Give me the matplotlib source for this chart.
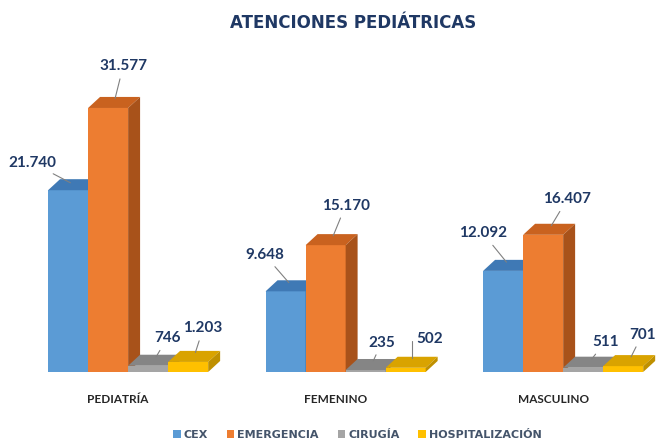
import matplotlib.pyplot as plt
import numpy as np

# data
categories = ["PEDIATRÍA", "FEMENINO", "MASCULINO"]
series = ["CEX", "EMERGENCIA", "CIRUGÍA", "HOSPITALIZACIÓN"]
cex = [21740, 9648, 12092]
emergencia = [31577, 15170, 16407]
cirugia = [746, 235, 511]
hospitalizacion = [1203, 502, 701]
values = [cex, emergencia, cirugia, hospitalizacion]

# front / top / side shades for the 3d look
front = ["#5B9BD5", "#ED7D31", "#A5A5A5", "#FFC000"]
top = ["#3F79B5", "#C9621F", "#858585", "#D9A300"]
side = ["#3A6C9E", "#A8521A", "#7A7A7A", "#BF9000"]

navy = "#1F3864"
plt.rcParams["font.family"] = ["Lato", "DejaVu Sans"]

fig = plt.figure(figsize=(6.58, 4.41), dpi=100)
ax = fig.add_axes([0, 0, 1, 1])
ax.set_xlim(-0.589, 2.436)
ax.set_ylim(-8253, 44491)
ax.axis("off")

w = 0.184      # bar width
DX = 0.055     # depth offset in x
DY = 1320      # depth offset in y
x = np.arange(len(categories))

# label offsets in pixels from the top face centre (layout only)
label_off = [
    [(-42, 22), (-27, 31), (-26, 32)],
    [(9, 36), (14, 34), (18, 30)],
    [(13, 22), (10, 22), (16, 20)],
    [(9, 28), (18, 23), (13, 26)],
]

for i, vals in enumerate(values):
    left = x - 2 * w + i * w
    ax.bar(left, vals, width=w, align="edge", color=front[i], linewidth=0,
           label=series[i])
    for g, h in enumerate(vals):
        l, r = left[g], left[g] + w
        ax.fill([l, l + DX, r + DX, r], [h, h + DY, h + DY, h],
                color=top[i], linewidth=0)
        ax.fill([r, r + DX, r + DX, r], [0, DY, h + DY, h],
                color=side[i], linewidth=0)
        # value label with leader line
        cx, cy = l + w / 2 + DX / 2, h + DY / 2
        conn = "arc3"
        if i == 3 and g == 1:
            conn = "angle,angleA=0,angleB=90,rad=0"
        ax.annotate(f"{h:,}".replace(",", "."), xy=(cx, cy),
                    xytext=label_off[i][g], textcoords="offset pixels",
                    ha="center", va="center", fontsize=11, fontweight="bold",
                    color=navy,
                    arrowprops=dict(arrowstyle="-", color="#808080", lw=0.8,
                                    shrinkA=2, shrinkB=3,
                                    connectionstyle=conn))

for g, cat in enumerate(categories):
    ax.annotate(cat, xy=(x[g], 0), xytext=(-10, -28), textcoords="offset pixels",
                ha="center", va="center", fontsize=8.5, fontweight="bold",
                color="#262626")

fig.text(0.5365, 0.948, "ATENCIONES PEDIÁTRICAS", ha="center", va="center",
         fontsize=12, fontweight="bold", color=navy, family="DejaVu Sans")

leg = ax.legend(loc="center", bbox_to_anchor=(0.543, 0.014), ncol=4,
                frameon=False, prop=dict(family="DejaVu Sans", weight="bold", size=8),
                handlelength=0.7, handleheight=0.7,
                handletextpad=0.25, columnspacing=1.7)
for t in leg.get_texts():
    t.set_color("#44546A")

fig.savefig("out.png", dpi=100)
